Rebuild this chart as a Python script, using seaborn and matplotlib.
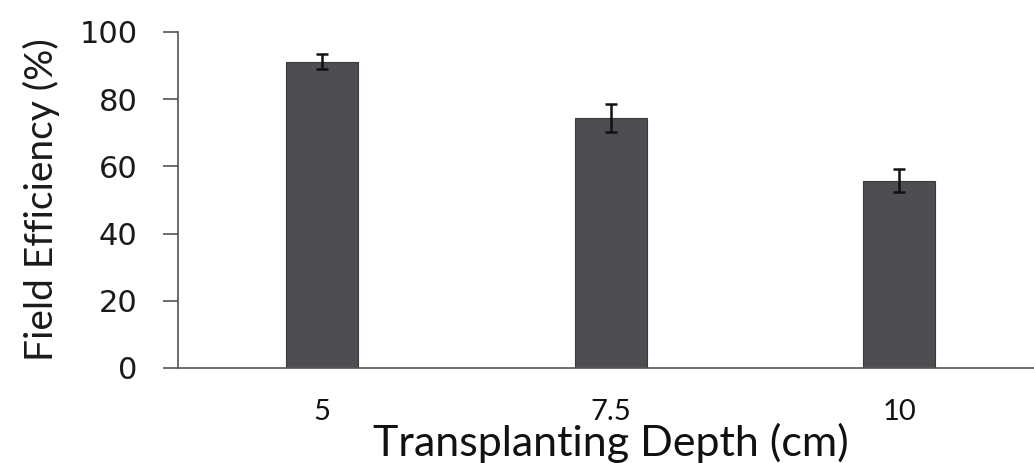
import pandas as pd
import matplotlib.pyplot as plt
import seaborn as sns

# data
depth = ['5', '7.5', '10']
efficiency = [91.2, 74.3, 55.8]
err = [2.3, 4.2, 3.5]

df = pd.DataFrame({'Depth': depth, 'Efficiency': efficiency})

sns.set_style('white')
plt.rcParams['font.family'] = ['Lato', 'DejaVu Sans']

fig = plt.figure(figsize=(10.34, 4.63), dpi=100)
ax = fig.add_axes([0.1721, 0.2052, 0.837, 0.7257])

sns.barplot(data=df, x='Depth', y='Efficiency', color='#4d4c52',
            width=0.25, edgecolor='#3a393e', linewidth=0.8, ax=ax)
ax.errorbar(range(len(depth)), efficiency, yerr=err, fmt='none',
            ecolor='#111111', elinewidth=1.8, capsize=4.5, capthick=1.8)

ax.set_xlim(-0.5, 2.5)
ax.set_ylim(0, 100)
ax.set_yticks([0, 20, 40, 60, 80, 100])
ax.set_yticklabels(['0', '20', '40', '60', '80', '100'],
                   fontfamily='DejaVu Sans', fontsize=22, color='#1a1a1a')
ax.set_xticks(range(len(depth)))
ax.set_xticklabels(depth, fontsize=21, color='#111111')

sns.despine(ax=ax, top=True, right=True)
for s in ['left', 'bottom']:
    ax.spines[s].set_color('#555555')
    ax.spines[s].set_linewidth(1.2)

ax.tick_params(axis='y', direction='out', length=11, width=1.2,
               color='#555555', pad=18, left=True)
ax.tick_params(axis='x', length=0, pad=22)

ax.set_xlabel('Transplanting Depth (cm)', fontsize=31, color='#111111',
              va='baseline')
ax.xaxis.set_label_coords(0.5, -0.263)
ax.set_ylabel('Field Efficiency (%)', fontsize=28, color='#1a1a1a')
ax.yaxis.set_label_coords(-0.136, 0.5)

fig.savefig('out.png', dpi=100)
